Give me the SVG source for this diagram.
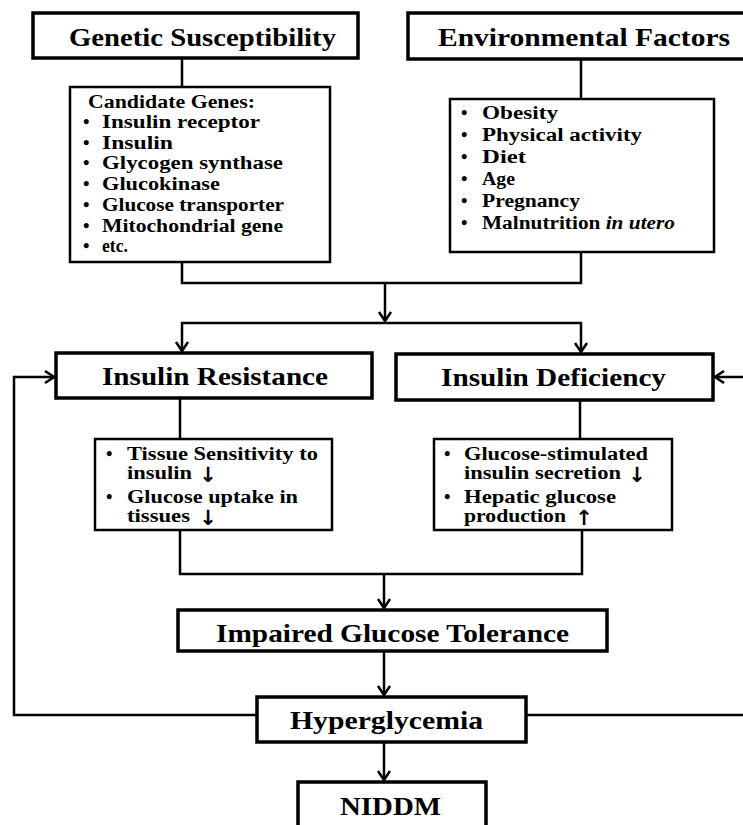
<svg xmlns="http://www.w3.org/2000/svg" width="743" height="825" viewBox="0 0 743 825">
<defs>
<style>
.box{fill:#fff;stroke:#000;stroke-width:3.5}
.sub{fill:#fff;stroke:#000;stroke-width:2.5}
.t{font-family:"Liberation Serif","Times New Roman",serif;font-weight:bold;fill:#000}
.title{font-size:26px}
.li{font-size:18.5px}
.ar{font-family:"DejaVu Sans",sans-serif;font-weight:bold;font-size:21px;fill:#000}
.c{fill:none;stroke:#000;stroke-width:2.5}
</style>
<marker id="ah" markerUnits="userSpaceOnUse" viewBox="-12 -8 14 16" markerWidth="14" markerHeight="16" refX="0" refY="0" orient="auto">
<path d="M-9,-6 L0,0 L-9,6" fill="none" stroke="#000" stroke-width="2.5"/>
</marker>
</defs>
<rect width="743" height="825" fill="#fff"/>
<g id="connectors">
<path class="c" d="M182,58 V87"/>
<path class="c" d="M581,59 V99"/>
<path class="c" d="M182,262 V283 H581 V252"/>
<path class="c" d="M385,283 V321" marker-end="url(#ah)"/>
<path class="c" d="M385,323 H182 V351" marker-end="url(#ah)"/>
<path class="c" d="M385,323 H581 V352" marker-end="url(#ah)"/>
<path class="c" d="M257,715 H14 V377 H54" marker-end="url(#ah)"/>
<path class="c" d="M526,715 H746"/>
<path class="c" d="M746,377 H715" marker-end="url(#ah)"/>
<path class="c" d="M180,398 V439"/>
<path class="c" d="M580,400 V439"/>
<path class="c" d="M180,530 V574 H582 V530"/>
<path class="c" d="M384,574 V608" marker-end="url(#ah)"/>
<path class="c" d="M384,651 V695" marker-end="url(#ah)"/>
<path class="c" d="M384,742 V780" marker-end="url(#ah)"/>
</g>
<g id="genetic">
<rect class="box" x="33" y="13" width="325" height="45"/>
<text class="t title" x="69" y="46" textLength="267" lengthAdjust="spacingAndGlyphs">Genetic Susceptibility</text>
</g>
<g id="environmental">
<rect class="box" x="408" y="13" width="340" height="46"/>
<text class="t title" x="438" y="46" textLength="292" lengthAdjust="spacingAndGlyphs">Environmental Factors</text>
</g>
<g id="candidate-genes">
<rect class="sub" x="70" y="87" width="260" height="175"/>
<text class="t li" x="88" y="108" textLength="167" lengthAdjust="spacingAndGlyphs">Candidate Genes:</text>
<text class="t li" x="83" y="128">•</text><text class="t li" x="102" y="128" textLength="158" lengthAdjust="spacingAndGlyphs">Insulin receptor</text>
<text class="t li" x="83" y="148.5">•</text><text class="t li" x="102" y="148.5" textLength="71" lengthAdjust="spacingAndGlyphs">Insulin</text>
<text class="t li" x="83" y="169">•</text><text class="t li" x="102" y="169" textLength="181" lengthAdjust="spacingAndGlyphs">Glycogen synthase</text>
<text class="t li" x="83" y="190">•</text><text class="t li" x="102" y="190" textLength="118" lengthAdjust="spacingAndGlyphs">Glucokinase</text>
<text class="t li" x="83" y="211">•</text><text class="t li" x="102" y="211" textLength="182" lengthAdjust="spacingAndGlyphs">Glucose transporter</text>
<text class="t li" x="83" y="231.5">•</text><text class="t li" x="102" y="231.5" textLength="181" lengthAdjust="spacingAndGlyphs">Mitochondrial gene</text>
<text class="t li" x="83" y="252">•</text><text class="t li" x="102" y="252" textLength="26" lengthAdjust="spacingAndGlyphs">etc.</text>
</g>
<g id="environmental-list">
<rect class="sub" x="450" y="99" width="264" height="153"/>
<text class="t li" x="461" y="119">•</text><text class="t li" x="482" y="119" textLength="76" lengthAdjust="spacingAndGlyphs">Obesity</text>
<text class="t li" x="461" y="141">•</text><text class="t li" x="482" y="141" textLength="160" lengthAdjust="spacingAndGlyphs">Physical activity</text>
<text class="t li" x="461" y="163">•</text><text class="t li" x="482" y="163" textLength="44" lengthAdjust="spacingAndGlyphs">Diet</text>
<text class="t li" x="461" y="185">•</text><text class="t li" x="482" y="185" textLength="33" lengthAdjust="spacingAndGlyphs">Age</text>
<text class="t li" x="461" y="207">•</text><text class="t li" x="482" y="207" textLength="98" lengthAdjust="spacingAndGlyphs">Pregnancy</text>
<text class="t li" x="461" y="229">•</text><text class="t li" x="482" y="229" textLength="193" lengthAdjust="spacingAndGlyphs">Malnutrition <tspan font-style="italic">in utero</tspan></text>
</g>
<g id="insulin-resistance">
<rect class="box" x="56" y="353" width="316" height="45"/>
<text class="t title" x="102" y="385" textLength="226" lengthAdjust="spacingAndGlyphs">Insulin Resistance</text>
</g>
<g id="insulin-deficiency">
<rect class="box" x="396" y="354" width="317" height="46"/>
<text class="t title" x="441" y="386" textLength="225" lengthAdjust="spacingAndGlyphs">Insulin Deficiency</text>
</g>
<g id="resistance-details">
<rect class="sub" x="95" y="439" width="237" height="91"/>
<text class="t li" x="106" y="460">•</text><text class="t li" x="127" y="460" textLength="191" lengthAdjust="spacingAndGlyphs">Tissue Sensitivity to</text>
<text class="t li" x="127" y="479" textLength="65" lengthAdjust="spacingAndGlyphs">insulin</text><text class="ar" x="208" y="482" text-anchor="middle">↓</text>
<text class="t li" x="106" y="503">•</text><text class="t li" x="127" y="503" textLength="171" lengthAdjust="spacingAndGlyphs">Glucose uptake in</text>
<text class="t li" x="127" y="522" textLength="63" lengthAdjust="spacingAndGlyphs">tissues</text><text class="ar" x="208" y="525" text-anchor="middle">↓</text>
</g>
<g id="deficiency-details">
<rect class="sub" x="434" y="439" width="238" height="91"/>
<text class="t li" x="444" y="460">•</text><text class="t li" x="464" y="460" textLength="184" lengthAdjust="spacingAndGlyphs">Glucose-stimulated</text>
<text class="t li" x="464" y="479" textLength="157" lengthAdjust="spacingAndGlyphs">insulin secretion</text><text class="ar" x="637" y="482" text-anchor="middle">↓</text>
<text class="t li" x="444" y="503">•</text><text class="t li" x="464" y="503" textLength="152" lengthAdjust="spacingAndGlyphs">Hepatic glucose</text>
<text class="t li" x="464" y="522" textLength="102" lengthAdjust="spacingAndGlyphs">production</text><text class="ar" x="584" y="525" text-anchor="middle" font-size="19">↑</text>
</g>
<g id="igt">
<rect class="box" x="178" y="610" width="429" height="41"/>
<text class="t title" x="216" y="642" textLength="353" lengthAdjust="spacingAndGlyphs">Impaired Glucose Tolerance</text>
</g>
<g id="hyperglycemia">
<rect class="box" x="257" y="697" width="269" height="45"/>
<text class="t title" x="290" y="729" textLength="193" lengthAdjust="spacingAndGlyphs">Hyperglycemia</text>
</g>
<g id="niddm">
<rect class="box" x="298" y="782" width="188" height="50"/>
<text class="t title" x="340" y="815" textLength="101" lengthAdjust="spacingAndGlyphs">NIDDM</text>
</g>
</svg>
